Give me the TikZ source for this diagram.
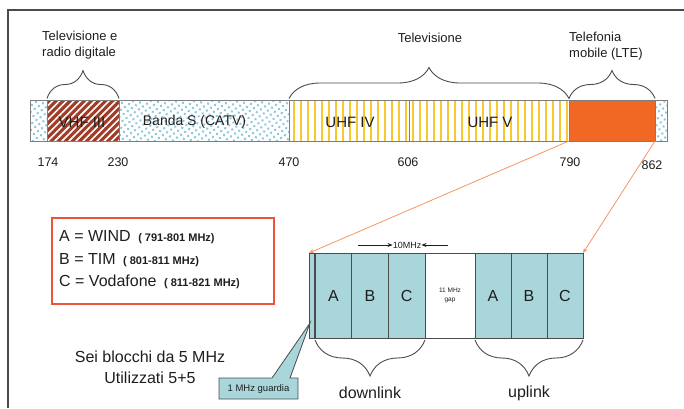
\documentclass[tikz,border=0pt]{standalone}
\usepackage{fontspec}
\setmainfont{Liberation Sans}
\usepackage{tikz}
\usetikzlibrary{arrows.meta, positioning, decorations.pathreplacing, patterns.meta}
\definecolor{cTeal}{RGB}{168,214,218}
\definecolor{cLte}{RGB}{240,104,36}
\definecolor{cLink}{RGB}{244,150,100}
\definecolor{cRed}{RGB}{236,84,60}
\definecolor{cYellow}{RGB}{247,200,50}
\definecolor{cVhf}{RGB}{160,60,40}
\definecolor{cDot}{RGB}{140,200,218}
\definecolor{cLine}{RGB}{125,125,125}
\definecolor{cDark}{RGB}{75,75,75}
\definecolor{cText}{RGB}{30,30,30}
\newcommand{\fsz}[1]{\fontsize{#1}{#1}\selectfont}
\tikzset{
	seg/.style      ={rectangle, draw=cLine, line width=0.8pt, minimum height=41pt, inner sep=0pt, outer sep=0pt},
	dotseg/.style   ={seg, pattern={Dots[radius=1.4pt, distance=5pt, angle=35]}, pattern color=cDot},
	uhfseg/.style   ={seg, pattern={Lines[angle=90, distance=7pt, line width=1.6pt]}, pattern color=cYellow},
	vhfseg/.style   ={seg, preaction={fill=cVhf}, pattern={Lines[angle=45, distance=5pt, line width=1.6pt]}, pattern color=white},
	lteseg/.style   ={seg, fill=cLte},
	seglbl/.style   ={font=\fsz{15}, text=cText, inner sep=0pt},
	freq/.style     ={font=\fsz{12.5}, text=cText, inner sep=0pt},
	toplbl/.style   ={font=\fontsize{13}{16}\selectfont, text=cText, align=left, inner sep=0pt},
	brc/.style      ={decorate, decoration={brace, amplitude=#1}, draw=cDark, line width=0.9pt},
	% lower block styles
	blk/.style      ={rectangle, draw=cDark, line width=0.9pt, fill=cTeal, minimum width=36.67pt, minimum height=85pt, inner sep=0pt, outer sep=0pt, font=\fsz{16}, text=cText},
	gapbox/.style   ={rectangle, draw=cDark, line width=0.6pt, fill=white, minimum width=50pt, minimum height=85pt, inner sep=0pt, outer sep=0pt, align=center, font=\fontsize{6.5}{9}\selectfont, text=cText},
	biglbl/.style   ={font=\fsz{16}, text=cText, inner sep=0pt},
	lnk/.style      ={draw=cLink, line width=0.8pt, -{Stealth[length=5pt, width=4pt]}},
	mhz/.style      ={-{Stealth[length=5pt, width=4pt]}, line width=0.8pt, cText},
}

\begin{document}
\begin{tikzpicture}[x=1pt, y=-1pt]
	\useasboundingbox (0,0) rectangle (684,408);
	\draw[cDark, line width=1.2pt] (8,408) -- (8,10) -- (684,10);

	% frequency bar
	\node[dotseg, minimum width=17pt] (lo) at (38.5,120.5) {};
	\node[vhfseg, minimum width=72pt, right=0pt of lo] (vhf) {};
	\node[dotseg, minimum width=170pt, right=0pt of vhf] (bandas) {};
	\node[uhfseg, minimum width=120pt, right=0pt of bandas] (uhf4) {};
	\node[uhfseg, minimum width=160pt, right=0pt of uhf4] (uhf5) {};
	\node[lteseg, minimum width=86pt, right=0pt of uhf5] (lte) {};
	\node[dotseg, minimum width=12pt, right=0pt of lte] (hi) {};

	\node[seglbl] (vhflbl) at (82,122) {VHF III};
	\node[seglbl, font=\fsz{14}] (bandalbl) at (194.5,122) {Banda S (CATV)};
	\node[seglbl] (uhf4lbl) at (350,122) {UHF IV};
	\node[seglbl] (uhf5lbl) at (490,122) {UHF V};

	\node[freq] (f174) at (48,162) {174};
	\node[freq] (f230) at (118,162) {230};
	\node[freq] (f470) at (289,162) {470};
	\node[freq] (f606) at (408,162) {606};
	\node[freq] (f790) at (570,162) {790};
	\node[freq] (f862) at (652,165) {862};

	% braces above the bar
	\draw[brc=28pt] ([yshift=1.5pt]vhf.north west) -- ([yshift=1.5pt]vhf.north east);
	\draw[brc=31pt] ([yshift=1.5pt]uhf4.north west) -- ([yshift=1.5pt]uhf5.north east);
	\draw[brc=28pt] ([yshift=1.5pt]lte.north west) -- ([yshift=1.5pt]lte.north east);
	\node[toplbl, anchor=west] (tvradio) at (42,45) {Televisione e\\radio digitale};
	\node[toplbl] (tv) at (430,38) {Televisione};
	\node[toplbl, anchor=west] (tel) at (569,46) {Telefonia\\mobile (LTE)};

	% legend
	\node[draw=cRed, line width=1.3pt, minimum width=222pt, minimum height=86pt] (legend) at (163,261) {};
	\node[anchor=west, align=left, inner sep=0pt, text=cText, font=\fontsize{16}{22.5}\selectfont] (legtxt) at (59,260)
		{A = WIND {\fsz{11}\bfseries\ ( 791-801 MHz)}\\B = TIM {\fsz{11}\bfseries\ ( 801-811 MHz)}\\C = Vodafone {\fsz{11}\bfseries\ ( 811-821 MHz)}};
	\node[biglbl] (sei) at (150,357) {Sei blocchi da 5 MHz};
	\node[biglbl] (util) at (150,378) {Utilizzati 5+5};

	% LTE blocks
	\node[blk, minimum width=6pt] (guard) at (312,295.5) {};
	\node[blk, right=0pt of guard] (dA) {A};
	\node[blk, right=0pt of dA] (dB) {B};
	\node[blk, right=0pt of dB] (dC) {C};
	\node[gapbox, right=0pt of dC] (gap) {11 MHz\\gap};
	\node[blk, minimum width=36pt, right=0pt of gap] (uA) {A};
	\node[blk, minimum width=36pt, right=0pt of uA] (uB) {B};
	\node[blk, minimum width=36pt, right=0pt of uB] (uC) {C};
	\draw[cDark, line width=2pt] (guard.north east) -- (guard.south east);

	\node[font=\fsz{9}, inner sep=0pt, text=cText] (mhzlbl) at (407,245) {10MHz};
	\coordinate (mhzL) at (358,245);
	\coordinate (mhzR) at (448,245);
	\draw[mhz] (mhzL) -- (mhzlbl.west);
	\draw[mhz] (mhzR) -- (mhzlbl.east);

	\draw[brc=36pt] ([yshift=-2pt]dC.south east) -- ([yshift=-2pt]dA.south west);
	\draw[brc=36pt] ([yshift=-2pt]uC.south east) -- ([yshift=-2pt]uA.south west);
	\node[biglbl] (down) at (370,393) {downlink};
	\node[biglbl] (up) at (529,393) {uplink};

	% guard callout
	\draw[cDark, line width=0.8pt, fill=cTeal] (219,378) -- (272,378) -- (310,323) -- (290,378) -- (298,378) -- (298,399) -- (219,399) -- cycle;
	\node[font=\fsz{9.5}, inner sep=0pt, text=cText] (guardlbl) at (258.5,389) {1 MHz guardia};

	% links from the LTE band
	\draw[lnk] (lte.south west) -- (guard.north west);
	\draw[lnk] (lte.south east) -- (uC.north east);
\end{tikzpicture}
\end{document}
